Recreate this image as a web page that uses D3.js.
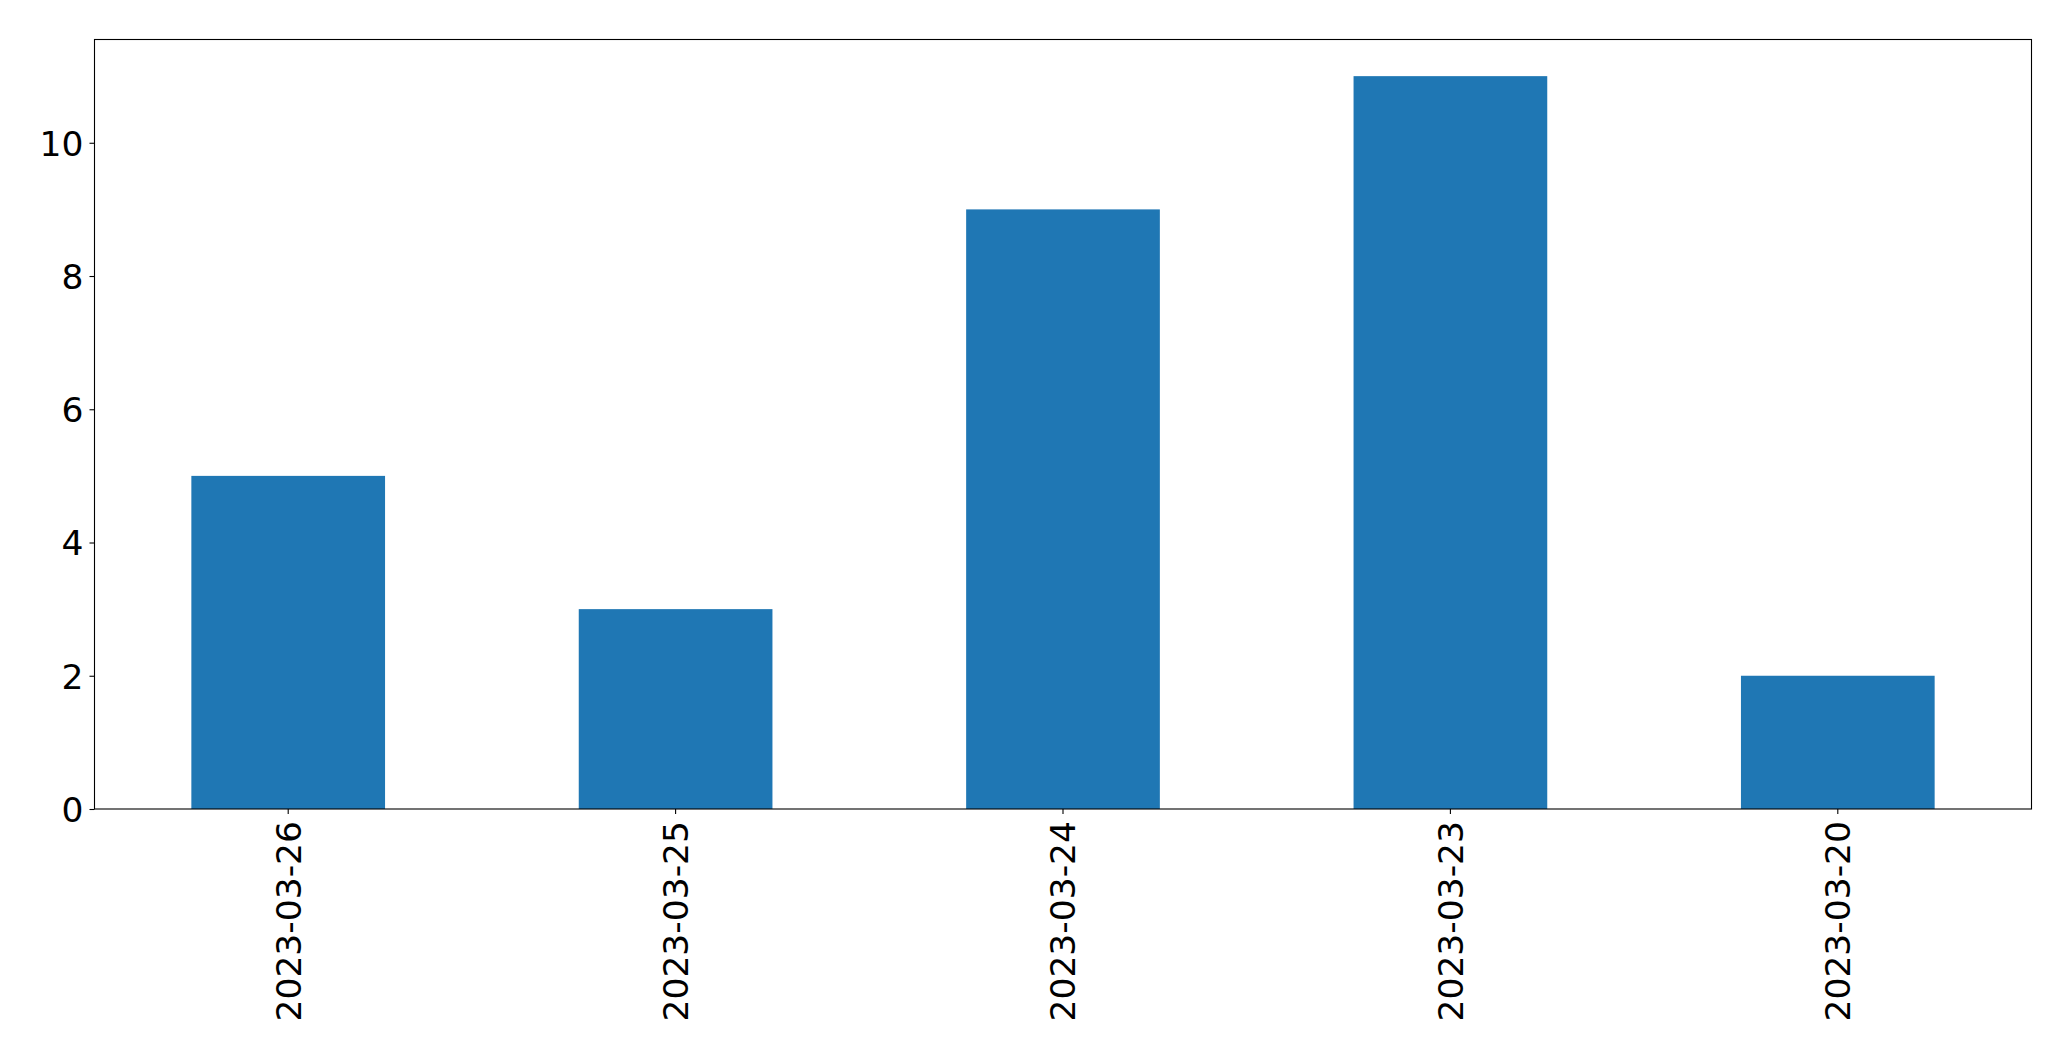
<!DOCTYPE html>
<html>
<head>
<meta charset="utf-8">
<script src="https://cdn.jsdelivr.net/npm/d3@7"></script>
<style>
html,body{margin:0;padding:0;background:#fff;}
svg text{font-family:"DejaVu Sans",sans-serif;fill:#000;}
</style>
</head>
<body>
<svg id="chart" width="2071" height="1061"></svg>
<script>
const categories = ["2023-03-26","2023-03-25","2023-03-24","2023-03-23","2023-03-20"];
const values = [5, 3, 9, 11, 2];
const yTicks = [0, 2, 4, 6, 8, 10];

const svg = d3.select("#chart");
const m = {left: 94.5, right: 2031.5, top: 39.5, bottom: 809};
const fs = 34.5;

const x = d3.scaleBand().domain(categories).range([m.left, m.right]).paddingInner(0.5).paddingOuter(0.25);
const y = d3.scaleLinear().domain([0, d3.max(values) * 1.05]).range([m.bottom, m.top]);

svg.append("rect").attr("width",2071).attr("height",1061).attr("fill","#fff");

svg.append("g").selectAll("rect").data(values).join("rect")
  .attr("x", (d,i) => x(categories[i]))
  .attr("width", x.bandwidth())
  .attr("y", d => y(d))
  .attr("height", d => y(0) - y(d))
  .attr("fill", "#1f77b4");

const yAxis = d3.axisLeft(y).tickValues(yTicks).tickSize(5).tickPadding(6).tickFormat(d3.format("d"));
const gy = svg.append("g").attr("transform", `translate(${m.left},0)`).call(yAxis);
gy.select(".domain").remove();
gy.selectAll("line").attr("stroke","#000").attr("stroke-width",1.1);
gy.selectAll("text").style("font-size", fs+"px").attr("font-family","DejaVu Sans").attr("fill","#000").attr("dy","0.36em");

const xAxis = d3.axisBottom(x).tickSize(5).tickPadding(0);
const gx = svg.append("g").attr("transform", `translate(0,${m.bottom})`).call(xAxis);
gx.select(".domain").remove();
gx.selectAll("line").attr("stroke","#000").attr("stroke-width",1.1);
gx.selectAll("text").style("font-size", fs+"px").attr("font-family","DejaVu Sans").attr("fill","#000")
  .attr("text-anchor","end").attr("transform","translate(0,12) rotate(-90)").attr("x",0).attr("y",0).attr("dy","0.36em");

svg.append("rect").attr("x", m.left).attr("y", m.top).attr("width", m.right - m.left).attr("height", m.bottom - m.top)
  .attr("fill","none").attr("stroke","#000").attr("stroke-width",1.1);
</script>
</body>
</html>
